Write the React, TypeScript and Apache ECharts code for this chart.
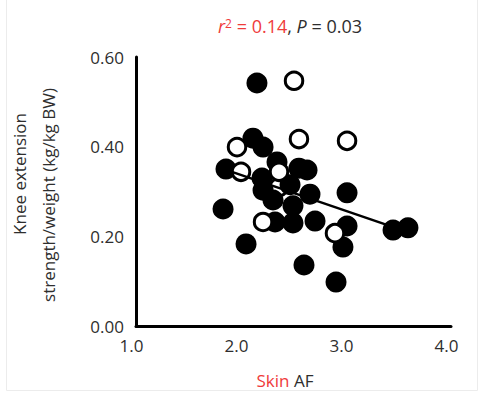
import React, { useEffect, useRef } from "react";
import * as echarts from "echarts";

// Filled circles [Skin AF, strength/weight]
const filledPoints: [number, number][] = [
  [2.152, 0.542], [2.114, 0.419], [2.21, 0.399], [2.343, 0.366], [1.857, 0.35],
  [2.2, 0.33], [2.552, 0.352], [2.629, 0.348], [2.21, 0.303], [2.467, 0.315],
  [2.657, 0.294], [2.305, 0.281], [2.495, 0.268], [1.829, 0.261], [2.324, 0.232],
  [2.495, 0.23], [2.705, 0.234], [3.01, 0.297], [3.01, 0.223], [2.971, 0.176],
  [2.048, 0.183], [2.6, 0.136], [2.905, 0.098], [3.448, 0.214], [3.59, 0.219],
];
// Open circles drawn beneath the filled ones
const openLowPoints: [number, number][] = [[2.362, 0.31]];
// Open circles drawn above the filled ones
const openPoints: [number, number][] = [
  [2.505, 0.547], [2.552, 0.417], [3.01, 0.413], [1.962, 0.399],
  [2.0, 0.344], [2.362, 0.344], [2.21, 0.232], [2.895, 0.207],
];
// Regression line end points
const regressionLine: [number, number][] = [[1.9, 0.345], [3.5, 0.2166]];

const xTicks = { min: 1, max: 4, interval: 1 };
const yTicks = { min: 0, max: 0.6, interval: 0.2 };

const RED = "#ef3b3b";
const DARK = "#2e2e2e";
const FONT = "'Open Sans', 'Noto Sans', sans-serif";

export default function App() {
  const ref = useRef<HTMLDivElement>(null);
  useEffect(() => {
    if (!ref.current) return;
    const chart = echarts.init(ref.current, null, { renderer: "svg" });
    const scatterBase = { type: "scatter" as const, symbol: "circle" };
    chart.setOption({
      animation: false,
      backgroundColor: "#ffffff",
      grid: { left: 136, top: 57, right: 27, bottom: 68, containLabel: false, outerBoundsMode: "none" },
      xAxis: {
        type: "value",
        min: xTicks.min,
        max: xTicks.max,
        interval: xTicks.interval,
        axisLine: { show: true, onZero: false, lineStyle: { color: "#000", width: 3 } },
        axisTick: { show: false },
        splitLine: { show: false },
        axisLabel: {
          color: DARK,
          fontFamily: FONT,
          fontSize: 17,
          margin: 11,
          padding: [0, 9, 0, 0],
          formatter: (v: number) => v.toFixed(1),
        },
      },
      yAxis: {
        type: "value",
        min: yTicks.min,
        max: yTicks.max,
        interval: yTicks.interval,
        axisLine: { show: true, onZero: false, lineStyle: { color: "#000", width: 3 } },
        axisTick: { show: false },
        splitLine: { show: false },
        axisLabel: {
          color: DARK,
          fontFamily: FONT,
          fontSize: 17,
          margin: 12,
          padding: [12, 0, 0, 0],
          formatter: (v: number) => v.toFixed(2),
        },
      },
      graphic: [
        {
          type: "rect",
          silent: true,
          shape: { x: 6.5, y: -2, width: 471, height: 392.5 },
          style: { fill: "none", stroke: "#ececec", lineWidth: 1 },
        },
        {
          type: "text",
          x: 290,
          y: 26,
          style: {
            text: "{ri|r}{rs|2}{rd| = 0.14}{d|, }{pi|P}{d| = 0.03}",
            align: "center",
            verticalAlign: "middle",
            font: `18px ${FONT}`,
            rich: {
              ri: { fontStyle: "italic", fill: RED, fontSize: 18, fontFamily: FONT },
              rs: { fill: RED, fontSize: 12, fontFamily: FONT, verticalAlign: "top" },
              rd: { fill: RED, fontSize: 18, fontFamily: FONT },
              d: { fill: DARK, fontSize: 18, fontFamily: FONT },
              pi: { fill: DARK, fontSize: 18, fontFamily: FONT, fontStyle: "italic" },
            },
          },
        },
        {
          type: "text",
          x: 285,
          y: 380,
          style: {
            text: "{r|Skin}{d| AF}",
            align: "center",
            verticalAlign: "middle",
            font: `17px ${FONT}`,
            rich: {
              r: { fill: RED, fontSize: 17, fontFamily: FONT },
              d: { fill: DARK, fontSize: 17, fontFamily: FONT },
            },
          },
        },
        {
          type: "text",
          x: 19,
          y: 174,
          rotation: Math.PI / 2,
          style: {
            text: "Knee extension",
            align: "center",
            verticalAlign: "middle",
            fill: DARK,
            font: `17px ${FONT}`,
          },
        },
        {
          type: "text",
          x: 48,
          y: 195,
          rotation: Math.PI / 2,
          style: {
            text: "strength/weight (kg/kg BW)",
            align: "center",
            verticalAlign: "middle",
            fill: DARK,
            font: `17px ${FONT}`,
          },
        },
      ],
      series: [
        {
          ...scatterBase,
          data: openLowPoints,
          symbolSize: 17.5,
          itemStyle: { color: "#fff", borderColor: "#000", borderWidth: 3, opacity: 1 },
        },
        {
          ...scatterBase,
          data: filledPoints,
          symbolSize: 21,
          itemStyle: { color: "#000", opacity: 1 },
        },
        {
          ...scatterBase,
          data: openPoints,
          symbolSize: 17.5,
          itemStyle: { color: "#fff", borderColor: "#000", borderWidth: 3, opacity: 1 },
        },
        {
          type: "line",
          data: regressionLine,
          symbol: "none",
          lineStyle: { color: "#000", width: 2.5 },
          silent: true,
        },
      ],
    });
    return () => chart.dispose();
  }, []);
  return <div ref={ref} style={{ position: "fixed", left: 0, top: 0, width: 478, height: 394 }} />;
}
